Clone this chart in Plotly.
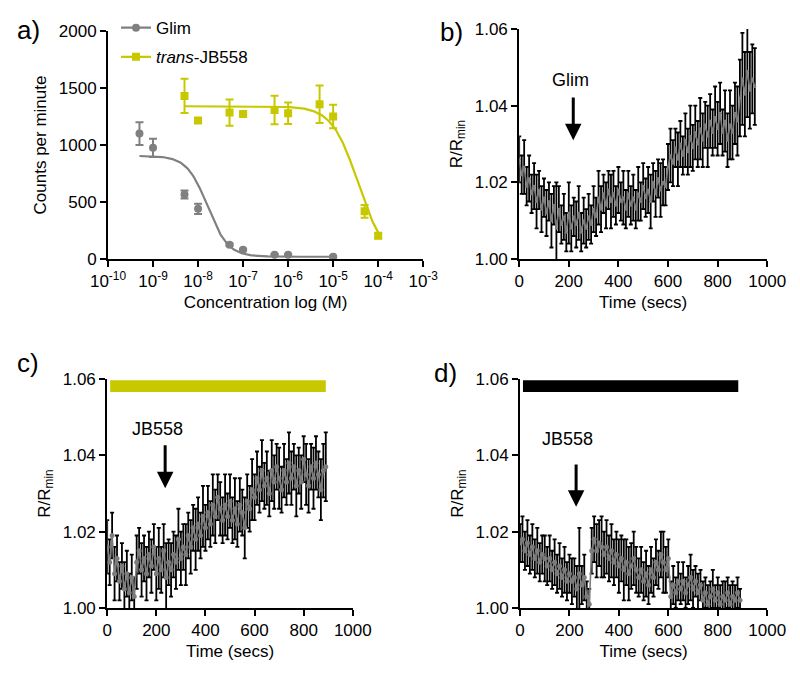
import numpy as np
import plotly.graph_objects as go

FONT = "Liberation Sans, Arial, sans-serif"
GRAY = "#808080"
YELLOW = "#c8c800"

# ---------------- Panel a data ----------------
glim_conc = [5e-10, 1e-9, 5e-9, 1e-8, 5e-8, 1e-7, 5e-7, 1e-6, 1e-5]
glim_cpm = [1100, 975, 565, 440, 126, 82, 38, 38, 20]
glim_err = [100, 80, 35, 45, 10, 8, 6, 6, 6]
glim_fit = dict(top=905, bottom=20, log_ic50=-7.79, hill=1.9)

jb_conc = [5e-9, 1e-8, 5e-8, 1e-7, 5e-7, 1e-6, 5e-6, 1e-5, 5e-5, 1e-4]
jb_cpm = [1431, 1215, 1285, 1273, 1308, 1279, 1358, 1250, 418, 204]
jb_err = [150, 22, 115, 10, 125, 95, 165, 103, 55, 22]
jb_fit = dict(top=1340, bottom=0, log_ic50=-4.45, hill=1.5)

conc_ticks = [1e-10, 1e-9, 1e-8, 1e-7, 1e-6, 1e-5, 1e-4, 1e-3]
conc_labels = ["10<sup>-10</sup>", "10<sup>-9</sup>", "10<sup>-8</sup>", "10<sup>-7</sup>",
               "10<sup>-6</sup>", "10<sup>-5</sup>", "10<sup>-4</sup>", "10<sup>-3</sup>"]

# ---------------- Panel b data (Glim) ----------------
b_time = list(range(0, 960, 10))
b_ratio = [1.026, 1.022, 1.024, 1.019, 1.021, 1.017, 1.019, 1.015, 1.018, 1.013,
           1.016, 1.012, 1.015, 1.010, 1.014, 1.008, 1.013, 1.009, 1.011, 1.007,
           1.012, 1.008, 1.011, 1.009, 1.012, 1.007, 1.010, 1.008, 1.011, 1.009,
           1.013, 1.011, 1.016, 1.013, 1.017, 1.014, 1.018, 1.015, 1.017, 1.014,
           1.018, 1.015, 1.016, 1.013, 1.017, 1.014, 1.016, 1.013, 1.017, 1.015,
           1.019, 1.016, 1.018, 1.015, 1.020, 1.017, 1.021, 1.018, 1.020, 1.019,
           1.024, 1.027, 1.025, 1.029, 1.026, 1.030, 1.027, 1.031, 1.028, 1.032,
           1.029, 1.033, 1.030, 1.034, 1.031, 1.035, 1.032, 1.036, 1.033, 1.037,
           1.034, 1.038, 1.033, 1.036, 1.031, 1.035, 1.033, 1.038, 1.036, 1.042,
           1.047, 1.043, 1.049, 1.044, 1.047, 1.045]
b_err = [0.006, 0.005, 0.007, 0.005, 0.006, 0.005, 0.006, 0.007, 0.005, 0.006,
         0.005, 0.006, 0.005, 0.007, 0.005, 0.012, 0.006, 0.005, 0.006, 0.005,
         0.008, 0.006, 0.005, 0.006, 0.007, 0.005, 0.006, 0.005, 0.006, 0.005,
         0.006, 0.005, 0.007, 0.006, 0.005, 0.006, 0.005, 0.007, 0.006, 0.005,
         0.006, 0.005, 0.007, 0.005, 0.006, 0.005, 0.006, 0.005, 0.007, 0.005,
         0.006, 0.005, 0.006, 0.007, 0.005, 0.006, 0.005, 0.007, 0.006, 0.005,
         0.006, 0.007, 0.006, 0.005, 0.007, 0.006, 0.005, 0.007, 0.006, 0.008,
         0.006, 0.007, 0.006, 0.008, 0.007, 0.006, 0.008, 0.007, 0.006, 0.008,
         0.007, 0.008, 0.006, 0.008, 0.007, 0.009, 0.007, 0.008, 0.009, 0.010,
         0.012, 0.011, 0.012, 0.010, 0.009, 0.010]

# ---------------- Panel c data (JB558, 561 nm) ----------------
c_time = list(range(0, 900, 10))
c_ratio = [1.016, 1.012, 1.019, 1.009, 1.013, 1.007, 1.011, 1.005, 1.009, 1.004,
           1.008, 1.003, 1.012, 1.015, 1.010, 1.013, 1.009, 1.014, 1.011, 1.016,
           1.009, 1.013, 1.010, 1.015, 1.008, 1.012, 1.010, 1.014, 1.012, 1.018,
           1.013, 1.016, 1.014, 1.019, 1.016, 1.021, 1.018, 1.022, 1.019, 1.024,
           1.021, 1.025, 1.022, 1.027, 1.024, 1.029, 1.026, 1.023, 1.027, 1.024,
           1.028, 1.023, 1.026, 1.022, 1.027, 1.025, 1.021, 1.028, 1.026, 1.031,
           1.029, 1.034, 1.031, 1.036, 1.032, 1.034, 1.030, 1.036, 1.033, 1.037,
           1.034, 1.031, 1.036, 1.033, 1.038, 1.034, 1.037, 1.032, 1.036, 1.033,
           1.039, 1.035, 1.032, 1.037, 1.034, 1.038, 1.035, 1.031, 1.036, 1.037]
c_err = [0.007, 0.006, 0.006, 0.007, 0.006, 0.005, 0.006, 0.007, 0.006, 0.005,
         0.006, 0.005, 0.007, 0.006, 0.007, 0.006, 0.007, 0.006, 0.007, 0.006,
         0.007, 0.008, 0.006, 0.007, 0.009, 0.006, 0.007, 0.006, 0.007, 0.008,
         0.007, 0.006, 0.008, 0.006, 0.007, 0.006, 0.008, 0.007, 0.006, 0.008,
         0.006, 0.007, 0.006, 0.008, 0.007, 0.006, 0.007, 0.006, 0.008, 0.006,
         0.007, 0.006, 0.008, 0.006, 0.007, 0.006, 0.008, 0.007, 0.006, 0.008,
         0.006, 0.007, 0.006, 0.008, 0.006, 0.007, 0.006, 0.008, 0.007, 0.006,
         0.008, 0.006, 0.007, 0.006, 0.008, 0.007, 0.006, 0.008, 0.006, 0.007,
         0.006, 0.008, 0.007, 0.006, 0.008, 0.007, 0.006, 0.008, 0.007, 0.009]

# ---------------- Panel d data (JB558, dark) ----------------
d_time = list(range(0, 900, 10))
d_ratio = [1.017, 1.018, 1.015, 1.017, 1.014, 1.016, 1.013, 1.015, 1.012, 1.014,
           1.013, 1.011, 1.013, 1.010, 1.012, 1.009, 1.011, 1.008, 1.010, 1.007,
           1.009, 1.007, 1.008, 1.005, 1.009, 1.006, 1.008, 1.003, 1.001, 1.015,
           1.018, 1.015, 1.017, 1.016, 1.014, 1.016, 1.013, 1.015, 1.012, 1.014,
           1.011, 1.013, 1.010, 1.012, 1.009, 1.011, 1.013, 1.010, 1.008, 1.010,
           1.007, 1.009, 1.006, 1.010, 1.008, 1.012, 1.010, 1.014, 1.012, 1.010,
           1.013, 1.003, 1.006, 1.004, 1.007, 1.005, 1.007, 1.004, 1.006, 1.008,
           1.005, 1.007, 1.004, 1.006, 1.002, 1.004, 1.001, 1.003, 1.005, 1.002,
           1.004, 1.001, 1.003, 1.002, 1.004, 1.001, 1.003, 1.002, 1.004, 1.002]
d_err = [0.005, 0.006, 0.005, 0.006, 0.005, 0.006, 0.005, 0.006, 0.005, 0.005,
         0.006, 0.005, 0.006, 0.005, 0.006, 0.005, 0.006, 0.005, 0.006, 0.005,
         0.005, 0.006, 0.005, 0.006, 0.012, 0.005, 0.006, 0.004, 0.004, 0.006,
         0.006, 0.007, 0.006, 0.008, 0.006, 0.007, 0.006, 0.007, 0.006, 0.006,
         0.007, 0.006, 0.008, 0.006, 0.007, 0.006, 0.007, 0.006, 0.005, 0.006,
         0.005, 0.006, 0.005, 0.006, 0.005, 0.006, 0.005, 0.006, 0.008, 0.006,
         0.005, 0.004, 0.005, 0.004, 0.005, 0.004, 0.005, 0.004, 0.005, 0.006,
         0.005, 0.004, 0.005, 0.004, 0.005, 0.004, 0.005, 0.004, 0.005, 0.004,
         0.004, 0.005, 0.004, 0.005, 0.004, 0.005, 0.004, 0.004, 0.004, 0.003]

time_ticks = [0, 200, 400, 600, 800, 1000]
ratio_ticks = [1.00, 1.02, 1.04, 1.06]

# light-bar extents (seconds) and arrow positions
c_bar = (12, 890)
d_bar = (12, 883)
b_arrow_t, c_arrow_t, d_arrow_t = 218, 236, 227


def four_pl(x, p):
    return p["bottom"] + (p["top"] - p["bottom"]) / (1 + 10 ** (p["hill"] * (np.log10(x) - p["log_ic50"])))


fig = go.Figure()

# ---- panel a ----
gx = np.logspace(np.log10(glim_conc[0]), np.log10(glim_conc[-1]), 200)
jx = np.logspace(np.log10(jb_conc[0]), np.log10(jb_conc[-1]), 200)
fig.add_trace(go.Scatter(x=gx, y=four_pl(gx, glim_fit), mode="lines", line=dict(color=GRAY, width=2.2),
                         xaxis="x", yaxis="y", showlegend=False, hoverinfo="skip"))
fig.add_trace(go.Scatter(x=jx, y=four_pl(jx, jb_fit), mode="lines", line=dict(color=YELLOW, width=2.2),
                         xaxis="x", yaxis="y", showlegend=False, hoverinfo="skip"))
fig.add_trace(go.Scatter(x=glim_conc, y=glim_cpm, mode="markers", name="Glim",
                         marker=dict(color=GRAY, size=8, symbol="circle"),
                         error_y=dict(type="data", array=glim_err, color=GRAY, thickness=2, width=4),
                         xaxis="x", yaxis="y", showlegend=False))
fig.add_trace(go.Scatter(x=jb_conc, y=jb_cpm, mode="markers", name="<i>trans</i>-JB558",
                         marker=dict(color=YELLOW, size=8, symbol="square"),
                         error_y=dict(type="data", array=jb_err, color=YELLOW, thickness=2, width=4),
                         xaxis="x", yaxis="y", showlegend=False))
# legend entries (line + marker symbol, as in the reference legend)
fig.add_trace(go.Scatter(x=[None], y=[None], mode="lines+markers", name="Glim",
                         line=dict(color=GRAY, width=2.2), marker=dict(color=GRAY, size=8, symbol="circle"),
                         xaxis="x", yaxis="y", legendgroup="g1"))
fig.add_trace(go.Scatter(x=[None], y=[None], mode="lines+markers", name="<i>trans</i>-JB558",
                         line=dict(color=YELLOW, width=2.2), marker=dict(color=YELLOW, size=8, symbol="square"),
                         xaxis="x", yaxis="y", legendgroup="g2"))

# ---- time-course panels ----
def add_trace(t, r, e, ax, msize):
    fig.add_trace(go.Scatter(x=t, y=r, mode="lines+markers",
                             line=dict(color="#7c7c7c", width=1.6),
                             marker=dict(color="#7c7c7c", size=msize),
                             error_y=dict(type="data", array=e, color="#000000", thickness=1.8, width=2),
                             xaxis="x" + ax, yaxis="y" + ax, showlegend=False))

add_trace(b_time, b_ratio, b_err, "2", 3)
add_trace(c_time, c_ratio, c_err, "3", 5)
add_trace(d_time, d_ratio, d_err, "4", 5)

TS = 17
axis_common = dict(showline=True, linecolor="black", linewidth=2, ticks="outside", ticklen=6,
                   tickwidth=2, tickcolor="black", showgrid=False, zeroline=False, automargin=False,
                   tickfont=dict(family=FONT, size=TS, color="black"))
title_font = dict(family=FONT, size=TS, color="black")

doms = {
    "": ([0.135, 0.529], [0.6174, 0.9542]),
    "2": ([0.649, 0.959], [0.6174, 0.9572]),
    "3": ([0.134, 0.441], [0.1019, 0.4402]),
    "4": ([0.650, 0.959], [0.1019, 0.4402]),
}

layout = dict(width=800, height=677, margin=dict(l=0, r=0, t=0, b=0),
              plot_bgcolor="white", paper_bgcolor="white",
              font=dict(family=FONT, size=TS, color="black"),
              legend=dict(x=0.145, y=0.985, xanchor="left", yanchor="top", bgcolor="rgba(0,0,0,0)",
                          font=dict(family=FONT, size=TS), tracegroupgap=4, itemwidth=30))

xa, ya = doms[""]
layout["xaxis"] = dict(axis_common, domain=xa, anchor="y", type="log", range=[-10, -3],
                       tickvals=conc_ticks, ticktext=conc_labels,
                       title=dict(text="Concentration log (M)", font=title_font, standoff=6))
layout["yaxis"] = dict(axis_common, domain=ya, anchor="x", range=[0, 2000], tickvals=[0, 500, 1000, 1500, 2000],
                       title=dict(text="Counts per minute", font=title_font, standoff=8))
for k in ["2", "3", "4"]:
    xa, ya = doms[k]
    layout["xaxis" + k] = dict(axis_common, domain=xa, anchor="y" + k, range=[0, 1000], tickvals=time_ticks,
                               title=dict(text="Time (secs)", font=title_font, standoff=6))
    layout["yaxis" + k] = dict(axis_common, domain=ya, anchor="x" + k, range=[1.0, 1.06], tickvals=ratio_ticks,
                               tickformat=".2f",
                               title=dict(text="R/R<sub>min</sub>", font=title_font, standoff=8))
fig.update_layout(**layout)

# light bars
fig.add_shape(type="rect", xref="x3", yref="y3", x0=c_bar[0], x1=c_bar[1], y0=1.0566, y1=1.0597,
              fillcolor=YELLOW, line=dict(width=0))
fig.add_shape(type="rect", xref="x4", yref="y4", x0=d_bar[0], x1=d_bar[1], y0=1.0566, y1=1.0597,
              fillcolor="black", line=dict(width=0))

ann = []
ann.append(dict(xref="x3", yref="y3", x=c_bar[0] + 20, y=1.0602, text="561 nm", showarrow=False,
                xanchor="left", yanchor="bottom", font=dict(family=FONT, size=15)))
ann.append(dict(xref="x4", yref="y4", x=d_bar[0] + 22, y=1.0602, text="Dark", showarrow=False,
                xanchor="left", yanchor="bottom", font=dict(family=FONT, size=15)))

# arrows + labels
for ax, t, tail, tip, label, lx, ly in [("2", b_arrow_t, 1.0425, 1.031, "Glim", b_arrow_t - 12, 1.0467),
                                        ("3", c_arrow_t, 1.043, 1.0314, "JB558", c_arrow_t - 32, 1.0468),
                                        ("4", d_arrow_t, 1.038, 1.0265, "JB558", d_arrow_t - 36, 1.0443)]:
    ann.append(dict(xref="x" + ax, yref="y" + ax, axref="x" + ax, ayref="y" + ax,
                    x=t, y=tip, ax=t, ay=tail, text="", showarrow=True,
                    arrowhead=2, arrowsize=1.1, arrowwidth=3, arrowcolor="black"))
    ann.append(dict(xref="x" + ax, yref="y" + ax, x=lx, y=ly, text=label, showarrow=False,
                    xanchor="center", yanchor="middle", font=dict(family=FONT, size=18)))

# panel letters
for txt, px, py in [("a)", 29, 30), ("b)", 452, 32), ("c)", 28, 363), ("d)", 445, 373)]:
    ann.append(dict(xref="paper", yref="paper", x=px / 800, y=1 - py / 677, text=txt, showarrow=False,
                    xanchor="center", yanchor="middle", font=dict(family=FONT, size=26)))

fig.update_layout(annotations=ann)
fig.write_html("out.html", post_script="document.body.style.margin='0';",
               config={"displayModeBar": False})
